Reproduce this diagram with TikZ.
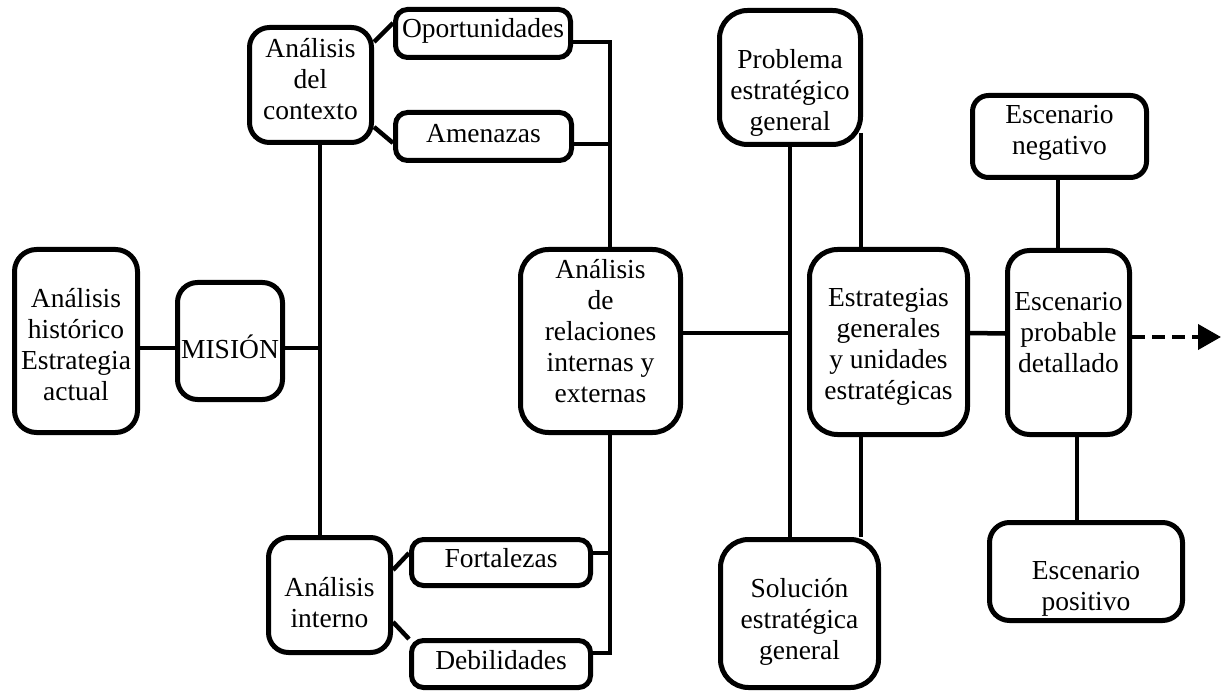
\documentclass[tikz,border=0pt]{standalone}
\usepackage{fontspec}
\setmainfont{Liberation Serif}
\usetikzlibrary{arrows.meta}
\begin{document}
\begin{tikzpicture}[x=1pt,y=-1pt,
  box/.style={draw=black,line width=5pt,rounded corners=#1,inner sep=0pt},
  box/.default=22pt,
  txt/.style={align=center,inner sep=0pt,font=\fontsize{27.5}{31}\selectfont},
  link/.style={line width=4.5pt,line cap=butt},
]
\useasboundingbox (0,0) rectangle (1225,692);

% left part: history, mission and the two analyses
\node[box,minimum width=123pt,minimum height=183pt] (hist) at (76,341) {};
\node[box=20pt,minimum width=105pt,minimum height=117pt] (mision) at (230,341) {};
\node[box=20pt,minimum width=122pt,minimum height=115pt] (contexto) at (310.5,85) {};
\node[box=20pt,minimum width=122pt,minimum height=115pt] (interno) at (329.5,595) {};

% SWOT items
\node[box=12pt,minimum width=175pt,minimum height=48pt] (oport) at (483,33.5) {};
\node[box=12pt,minimum width=176pt,minimum height=48pt] (amen) at (483.5,136.5) {};
\node[box=12pt,minimum width=179pt,minimum height=46pt] (fort) at (501,562.5) {};
\node[box=12pt,minimum width=179pt,minimum height=47pt] (debil) at (501,664) {};

% relations, problem, solution, strategies
\node[box=28pt,minimum width=160pt,minimum height=183pt] (relac) at (600.5,341) {};
\node[box=28pt,minimum width=141pt,minimum height=134pt] (problema) at (790,77.5) {};
\node[box=28pt,minimum width=158pt,minimum height=148pt] (solucion) at (799.5,613.5) {};
\node[box=28pt,minimum width=158pt,minimum height=185pt] (estrat) at (888.5,342) {};

% scenarios
\node[box=16pt,minimum width=174pt,minimum height=82pt] (negativo) at (1059.5,136.5) {};
\node[box=22pt,minimum width=122pt,minimum height=184pt] (probable) at (1068.5,342.5) {};
\node[box=20pt,minimum width=193pt,minimum height=98pt] (positivo) at (1086,571.5) {};

% box texts
\node[txt] (histT) at ([yshift=-4pt]hist.center) {Análisis\\histórico\\Estrategia\\actual};
\node[txt] (misionT) at ([yshift=-6pt]mision.center) {MISIÓN};
\node[txt] (contextoT) at ([yshift=6pt]contexto.center) {Análisis\\del\\contexto};
\node[txt] (internoT) at ([yshift=-8pt]interno.center) {Análisis\\interno};
\node[txt] (oportT) at ([yshift=3pt]oport.center) {Oportunidades};
\node[txt] (amenT) at ([yshift=3pt]amen.center) {Amenazas};
\node[txt] (fortT) at ([yshift=4pt]fort.center) {Fortalezas};
\node[txt] (debilT) at ([yshift=4pt]debil.center) {Debilidades};
\node[txt] (relacT) at ([yshift=10pt]relac.center) {Análisis\\de\\relaciones\\internas y\\externas};
\node[txt] (problemaT) at ([yshift=-15pt]problema.center) {Problema\\estratégico\\general};
\node[txt] (solucionT) at ([yshift=-8pt]solucion.center) {Solución\\estratégica\\general};
\node[txt] (estratT) at ([yshift=-5pt]estrat.center) {Estrategias\\generales\\y unidades\\estratégicas};
\node[txt] (negativoT) at ([yshift=4pt]negativo.center) {Escenario\\negativo};
\node[txt] (probableT) at ([yshift=10pt]probable.center) {Escenario\\probable\\detallado};
\node[txt] (positivoT) at ([yshift=-17pt]positivo.center) {Escenario\\positivo};

% bus lines
\coordinate (busL) at (320,0);
\coordinate (busR) at (610,0);
\coordinate (busS) at (790,0);
\coordinate (busE) at (861,0);
\coordinate (tip) at (1221,337);

% attachment points
\coordinate (misE) at ([yshift=-7pt]mision.east);
\coordinate (amE) at ([yshift=-7.5pt]amen.east);
\coordinate (foE) at ([yshift=9.5pt]fort.east);
\coordinate (reE) at ([yshift=8pt]relac.east);
\coordinate (pbE) at ([yshift=14pt]problema.south east);
\coordinate (ngS) at ([xshift=-1.5pt]negativo.south);
\coordinate (prS) at ([xshift=8.5pt]probable.south);

% left tree
\draw[link] ([yshift=-7pt]hist.east) -- ([yshift=-7pt]mision.west);
\draw[link] (misE) -- (busL |- misE);
\draw[link] (contexto.south -| busL) -- (interno.north -| busL);

% context and internal analysis to SWOT items
\draw[link] ([yshift=43pt]contexto.east) -- ([yshift=10.5pt]oport.west);
\draw[link] ([yshift=-42pt]contexto.east) -- ([yshift=-6.5pt]amen.west);
\draw[link] ([yshift=25pt]interno.east) -- ([yshift=9.5pt]fort.west);
\draw[link] ([yshift=-27pt]interno.east) -- ([yshift=25pt]debil.west);

% SWOT items into the relations box
\draw[link] ([yshift=-8.5pt]oport.east) -| (busR |- relac.north);
\draw[link] (amE) -- (busR |- amE);
\draw[link] (busR |- relac.south) |- ([yshift=11pt]debil.east);
\draw[link] (foE) -- (busR |- foE);

% relations to problem / solution / strategies
\draw[link] (reE) -- (busS |- reE);
\draw[link] (problema.south) -- (busS |- solucion.north);
\draw[link] (busE |- pbE) -- (busE |- estrat.north);
\draw[link] (busE |- estrat.south) -- (busE |- solucion.north);

% strategies to scenarios
\draw[link] ([yshift=9pt]estrat.east) -- ([yshift=9pt]probable.west);
\draw[link] (ngS) -- (ngS |- probable.north);
\draw[link] (prS) -- (prS |- positivo.north);
\draw[link,line width=4pt,dash pattern=on 13pt off 7pt,
  -{Triangle[length=23pt,width=25pt]}] (probable.east |- tip) -- (tip);
\end{tikzpicture}
\end{document}
